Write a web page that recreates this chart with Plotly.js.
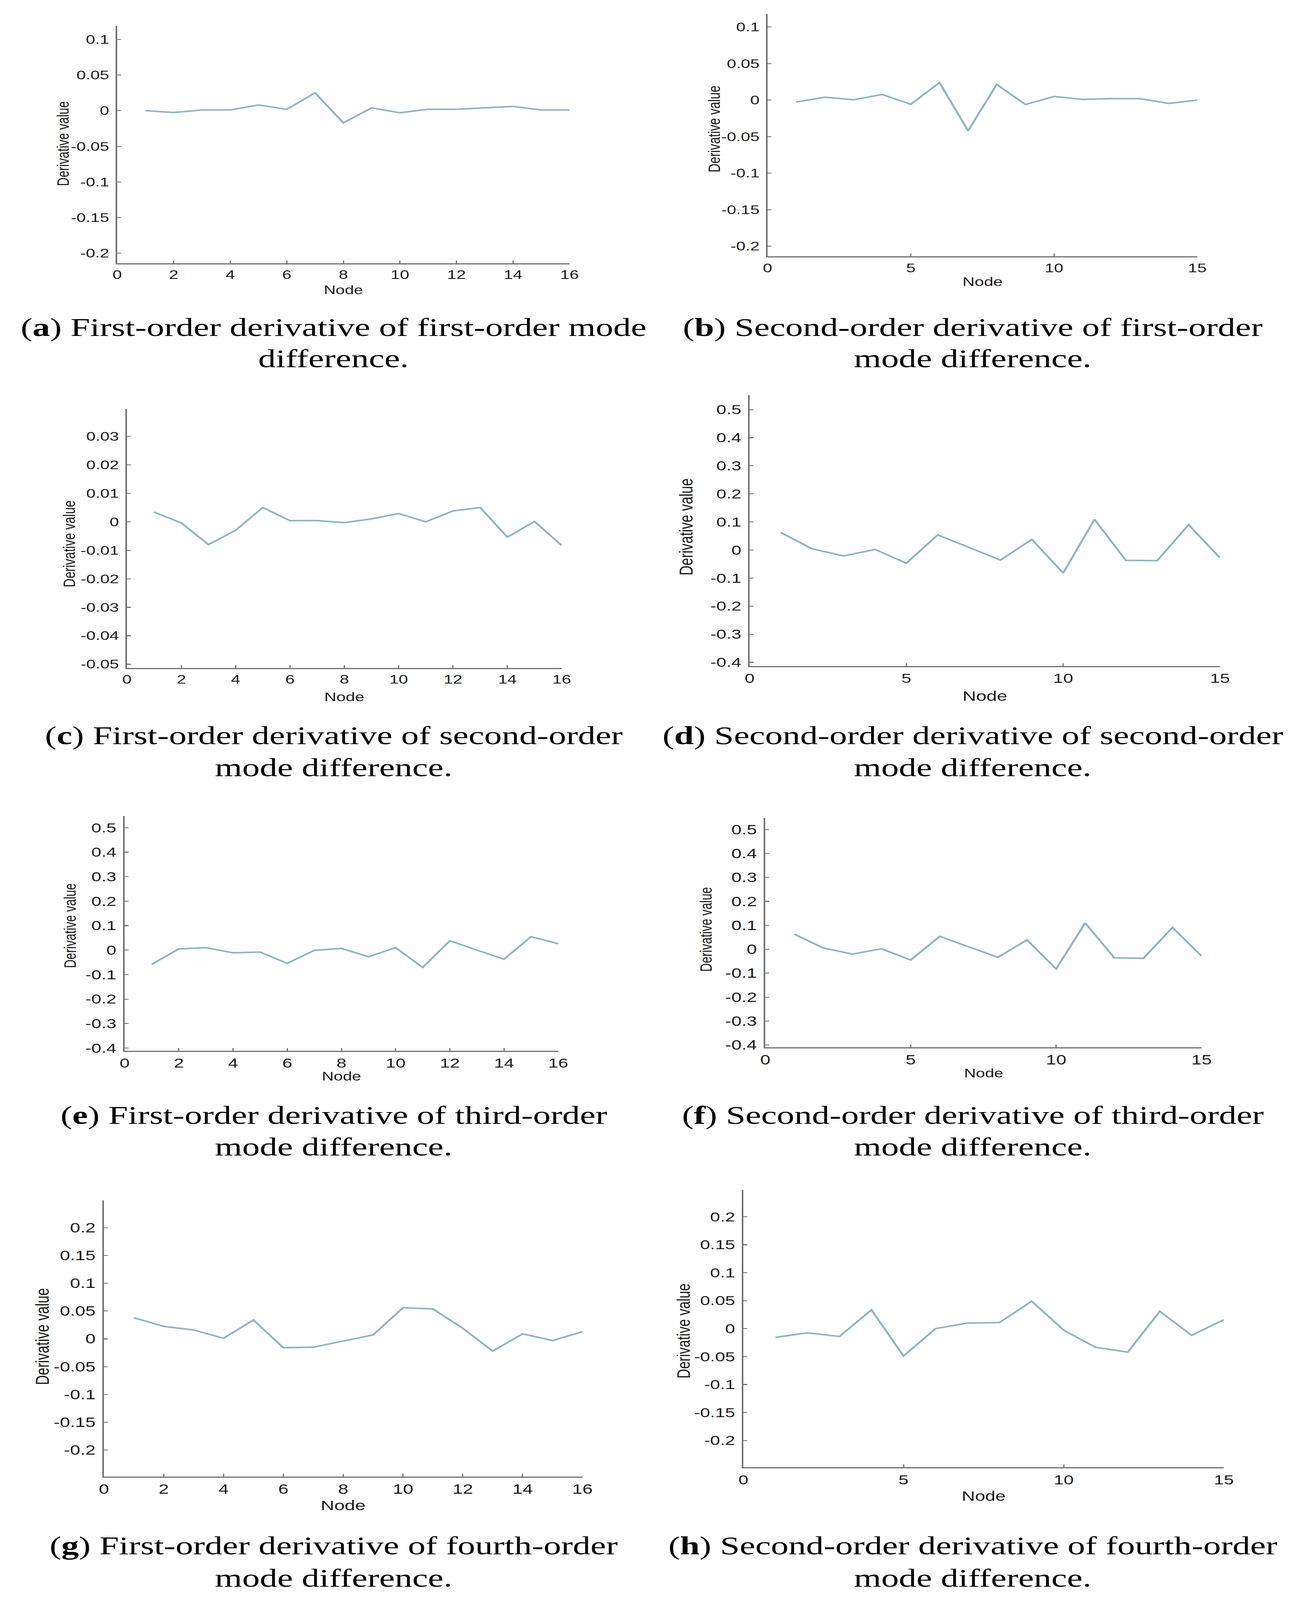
<!DOCTYPE html>
<html>
<head>
<meta charset="utf-8">
<script src="https://cdn.plot.ly/plotly-3.0.1.min.js"></script>
<style>
html,body{margin:0;padding:0;background:#ffffff;overflow:hidden;}
#wrap{width:3328px;height:5634px;transform-origin:0 0;}
#chart{width:3328px;height:5634px;}
</style>
</head>
<body>
<div id="wrap"><div id="chart"></div></div>
<script>
// ---------------- DATA ----------------
const nodes16 = [1,2,3,4,5,6,7,8,9,10,11,12,13,14,15,16];
const nodes15 = [1,2,3,4,5,6,7,8,9,10,11,12,13,14,15];

// (a) First-order derivative of first-order mode difference
const seriesA = [0.000,-0.0025,0.001,0.001,0.008,0.002,0.025,-0.017,0.004,-0.003,0.002,0.002,0.004,0.006,0.001,0.001];
// (b) Second-order derivative of first-order mode difference
const seriesB = [-0.0027,0.004,0.0005,0.0077,-0.0057,0.024,-0.042,0.0215,-0.006,0.005,0.001,0.002,0.002,-0.0045,0.0];
// (c) First-order derivative of second-order mode difference
const seriesC = [0.0034,-0.0004,-0.008,-0.003,0.005,0.0004,0.0004,-0.0003,0.001,0.0029,0.0,0.0038,0.005,-0.0054,0.0001,-0.0083];
// (d) Second-order derivative of second-order mode difference
const seriesD = [0.062,0.004,-0.021,0.002,-0.047,0.054,0.009,-0.036,0.038,-0.082,0.109,-0.037,-0.038,0.090,-0.028];
// (e) First-order derivative of third-order mode difference
const seriesE = [-0.058,0.005,0.010,-0.011,-0.008,-0.054,-0.001,0.007,-0.027,0.010,-0.071,0.038,0.0,-0.037,0.055,0.026];
// (f) Second-order derivative of third-order mode difference
const seriesF = [0.063,0.005,-0.020,0.002,-0.045,0.054,0.010,-0.034,0.039,-0.082,0.110,-0.036,-0.038,0.091,-0.028];
// (g) First-order derivative of fourth-order mode difference
const seriesG = [0.038,0.0225,0.016,0.001,0.034,-0.016,-0.015,-0.004,0.007,0.056,0.054,0.019,-0.022,0.009,-0.003,0.013];
// (h) Second-order derivative of fourth-order mode difference
const seriesH = [-0.0156,-0.0074,-0.014,0.0335,-0.049,0.0,0.010,0.011,0.049,-0.0026,-0.0335,-0.042,0.031,-0.012,0.016];

// tick values / labels
const xTickVals16 = [0,2,4,6,8,10,12,14,16];
const xTickText16 = ['0','2','4','6','8','10','12','14','16'];
const xTickVals15 = [0,5,10,15];
const xTickText15 = ['0','5','10','15'];
const yTickValsAB = [-0.2,-0.15,-0.1,-0.05,0,0.05,0.1];
const yTickTextAB = ['-0.2','-0.15','-0.1','-0.05','0','0.05','0.1'];
const yTickValsC = [-0.05,-0.04,-0.03,-0.02,-0.01,0,0.01,0.02,0.03];
const yTickTextC = ['-0.05','-0.04','-0.03','-0.02','-0.01','0','0.01','0.02','0.03'];
const yTickValsDEF = [-0.4,-0.3,-0.2,-0.1,0,0.1,0.2,0.3,0.4,0.5];
const yTickTextDEF = ['-0.4','-0.3','-0.2','-0.1','0','0.1','0.2','0.3','0.4','0.5'];
const yTickValsGH = [-0.2,-0.15,-0.1,-0.05,0,0.05,0.1,0.15,0.2];
const yTickTextGH = ['-0.2','-0.15','-0.1','-0.05','0','0.05','0.1','0.15','0.2'];

const xTitleText = 'Node';
const yTitleText = 'Derivative value';

const captionLine1 = [
  '(<b>a</b>) First-order derivative of first-order mode',
  '(<b>b</b>) Second-order derivative of first-order',
  '(<b>c</b>) First-order derivative of second-order',
  '(<b>d</b>) Second-order derivative of second-order',
  '(<b>e</b>) First-order derivative of third-order',
  '(<b>f</b>) Second-order derivative of third-order',
  '(<b>g</b>) First-order derivative of fourth-order',
  '(<b>h</b>) Second-order derivative of fourth-order'
];
const captionLine2 = [
  'difference.',
  'mode difference.',
  'mode difference.',
  'mode difference.',
  'mode difference.',
  'mode difference.',
  'mode difference.',
  'mode difference.'
];

// ---------------- LAYOUT (pixel geometry of the 3328 x 5634 figure) ----------------
const W = 3328, H = 5634;
const panels = [
  {x:nodes16, y:seriesA, xv:xTickVals16, xt:xTickText16, xmax:16, yv:yTickValsAB, yt:yTickTextAB, yr:[-0.214,0.119],
   px0:300, px1:1458, top:91, bot:927, tick:43, lab:42, ylx:161, yly:506, nodeY:1022, cx:854, c1:1153, c2:1263},
  {x:nodes15, y:seriesB, xv:xTickVals15, xt:xTickText15, xmax:15, yv:yTickValsAB, yt:yTickTextAB, yr:[-0.214,0.118],
   px0:1965, px1:3065, top:49, bot:903, tick:43, lab:43, ylx:1828, yly:454, nodeY:992, cx:2490, c1:1153, c2:1263},
  {x:nodes16, y:seriesC, xv:xTickVals16, xt:xTickText16, xmax:16, yv:yTickValsC, yt:yTickTextC, yr:[-0.0513,0.0396],
   px0:325, px1:1438, top:1440, bot:2352, tick:43, lab:43, ylx:177, yly:1915, nodeY:2454, cx:854, c1:2591, c2:2702},
  {x:nodes15, y:seriesD, xv:xTickVals15, xt:xTickText15, xmax:15, yv:yTickValsDEF, yt:yTickTextDEF, yr:[-0.413,0.552],
   px0:1919, px1:3123, top:1391, bot:2345, tick:46, lab:48, ylx:1756, yly:1855, nodeY:2450, cx:2490, c1:2591, c2:2702},
  {x:nodes16, y:seriesE, xv:xTickVals16, xt:xTickText16, xmax:16, yv:yTickValsDEF, yt:yTickTextDEF, yr:[-0.411,0.548],
   px0:319, px1:1429, top:2873, bot:3700, tick:46, lab:42, ylx:179, yly:3260, nodeY:3790, cx:854, c1:3927, c2:4039},
  {x:nodes15, y:seriesF, xv:xTickVals15, xt:xTickText15, xmax:15, yv:yTickValsDEF, yt:yTickTextDEF, yr:[-0.41,0.549],
   px0:1959, px1:3076, top:2880, bot:3688, tick:47, lab:42, ylx:1807, yly:3273, nodeY:3778, cx:2490, c1:3927, c2:4039},
  {x:nodes16, y:seriesG, xv:xTickVals16, xt:xTickText16, xmax:16, yv:yTickValsGH, yt:yTickTextGH, yr:[-0.248,0.249],
   px0:266, px1:1491, top:4227, bot:5200, tick:47, lab:48, ylx:108, yly:4707, nodeY:5300, cx:854, c1:5443, c2:5556},
  {x:nodes15, y:seriesH, xv:xTickVals15, xt:xTickText15, xmax:15, yv:yTickValsGH, yt:yTickTextGH, yr:[-0.248,0.248],
   px0:1903, px1:3133, top:4190, bot:5167, tick:46, lab:47, ylx:1749, yly:4687, nodeY:5268, cx:2490, c1:5443, c2:5556}
];

// If the real viewport is smaller than the figure, scale the whole figure into it.
const SX = Math.min(1, (window.innerWidth || W) / W);
const SY = Math.min(1, (window.innerHeight || H) / H);
if (SX < 1 || SY < 1) {
  document.getElementById('wrap').style.transform = 'scale(' + SX + ',' + SY + ')';
}

const LINE_COLOR = '#8fb4c1';
const AXIS_COLOR = '#707070';
const TEXT_COLOR = '#1a1a1a';
const SANS = 'Liberation Sans, Arial, Helvetica, sans-serif';
const SERIF = 'Liberation Serif, Times New Roman, serif';

const data = [];
const layout = {
  width: W, height: H,
  margin: {l:0, r:0, t:0, b:0},
  paper_bgcolor: '#ffffff',
  plot_bgcolor: '#ffffff',
  showlegend: false,
  hovermode: false,
  annotations: []
};

panels.forEach((p, i) => {
  const n = i === 0 ? '' : String(i + 1);
  data.push({
    type: 'scatter', mode: 'lines',
    x: p.x, y: p.y,
    xaxis: 'x' + n, yaxis: 'y' + n,
    line: {color: LINE_COLOR, width: 5.5},
    hoverinfo: 'skip'
  });
  const common = {
    tickmode: 'array',
    ticks: 'inside', ticklen: 10, tickwidth: 3, tickcolor: AXIS_COLOR,
    showline: true, linecolor: AXIS_COLOR, linewidth: 4,
    showgrid: false, zeroline: false, mirror: false,
    tickfont: {family: SANS, size: p.tick, color: TEXT_COLOR},
    fixedrange: true
  };
  layout['xaxis' + n] = Object.assign({}, common, {
    domain: [p.px0 / W, p.px1 / W],
    anchor: 'y' + n,
    range: [0, p.xmax],
    tickvals: p.xv, ticktext: p.xt,
    ticklabelstandoff: 0
  });
  layout['yaxis' + n] = Object.assign({}, common, {
    domain: [1 - p.bot / H, 1 - p.top / H],
    anchor: 'x' + n,
    range: p.yr,
    tickvals: p.yv, ticktext: p.yt,
    ticklabelstandoff: 8
  });
  const ann = (x, y, text, font, extra) => layout.annotations.push(Object.assign({
    xref: 'paper', yref: 'paper', x: x / W, y: 1 - y / H,
    xanchor: 'center', yanchor: 'middle', showarrow: false, text: text, font: font
  }, extra || {}));
  ann((p.px0 + p.px1) / 2, p.nodeY, xTitleText, {family: SANS, size: p.lab, color: TEXT_COLOR});
  ann(p.ylx, p.yly, yTitleText, {family: SANS, size: p.lab, color: TEXT_COLOR}, {textangle: -90});
  ann(p.cx, p.c1, captionLine1[i], {family: SERIF, size: 90, color: '#000000'});
  ann(p.cx, p.c2, captionLine2[i], {family: SERIF, size: 90, color: '#000000'});
});

Plotly.newPlot('chart', data, layout, {staticPlot: true, displayModeBar: false});
</script>
</body>
</html>
